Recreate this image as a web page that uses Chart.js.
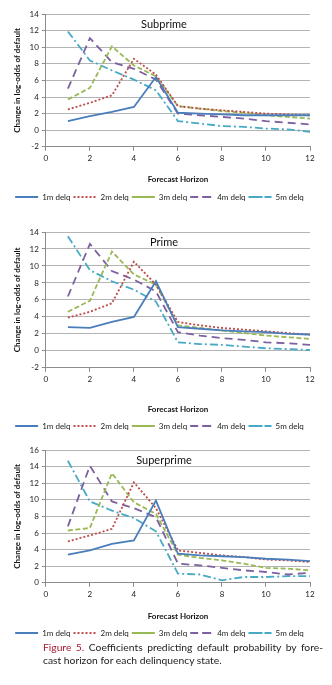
<!DOCTYPE html>
<html>
<head>
<meta charset="utf-8">
<script src="https://cdn.jsdelivr.net/npm/chart.js@4"></script>
<style>
  body { margin: 0; background: #fff; width: 332px; height: 685px; position: relative; overflow: hidden; }
  .box { position: absolute; left: 0; width: 332px; }
  .caption { position: absolute; left: 43px; width: 280px; top: 641px; font-family: Lato, sans-serif; font-size: 10.3px; line-height: 13px; color: #222; }
  .caption .l1 { text-align: justify; text-align-last: justify; }
  .caption b { color: #a5192d; font-weight: normal; }
</style>
</head>
<body>
<div class="box" style="top:0px;height:213px"><canvas id="c1"></canvas></div>
<div class="box" style="top:218px;height:224px"><canvas id="c2"></canvas></div>
<div class="box" style="top:436px;height:213px"><canvas id="c3"></canvas></div>
<div class="caption">
  <div class="l1"><b>Figure 5.</b> Coefficients predicting default probability by fore-</div>
  <div>cast horizon for each delinquency state.</div>
</div>
<script>
// Data
const horizons = [1, 2, 3, 4, 5, 6, 7, 8, 9, 10, 11, 12];
const delqLabels = ['1m delq', '2m delq', '3m delq', '4m delq', '5m delq'];

const subprime1m = [1.1, 1.7, 2.2, 2.8, 6.4, 2.1, 2.0, 1.9, 1.8, 1.8, 1.8, 1.8];
const subprime2m = [2.5, 3.3, 4.2, 8.6, 6.7, 2.9, 2.6, 2.4, 2.2, 2.0, 1.9, 1.8];
const subprime3m = [3.7, 5.1, 10.1, 7.8, 6.5, 2.9, 2.6, 2.3, 2.1, 1.8, 1.6, 1.4];
const subprime4m = [5.0, 11.1, 8.2, 7.4, 6.1, 2.0, 1.8, 1.6, 1.4, 1.1, 0.9, 0.7];
const subprime5m = [11.9, 8.4, 7.2, 6.1, 4.8, 1.1, 0.8, 0.5, 0.4, 0.2, 0.1, -0.2];

const prime1m = [2.8, 2.7, 3.4, 4.0, 8.2, 2.8, 2.6, 2.4, 2.3, 2.2, 2.0, 1.9];
const prime2m = [3.9, 4.6, 5.6, 10.5, 7.8, 3.4, 3.0, 2.7, 2.5, 2.3, 2.1, 1.9];
const prime3m = [4.6, 5.9, 11.7, 9.0, 7.8, 3.0, 2.7, 2.4, 2.1, 1.8, 1.6, 1.4];
const prime4m = [6.4, 12.6, 9.4, 8.4, 7.0, 2.2, 1.8, 1.5, 1.3, 1.0, 0.9, 0.7];
const prime5m = [13.5, 9.5, 8.2, 7.2, 5.8, 1.0, 0.8, 0.7, 0.5, 0.3, 0.2, 0.1];

const superprime1m = [3.4, 3.9, 4.7, 5.1, 9.9, 3.5, 3.3, 3.2, 3.1, 2.9, 2.8, 2.6];
const superprime2m = [5.0, 5.7, 6.5, 12.1, 9.0, 3.9, 3.6, 3.3, 3.1, 2.8, 2.7, 2.5];
const superprime3m = [6.3, 6.6, 13.2, 9.7, 8.3, 3.4, 3.0, 2.7, 2.3, 1.8, 1.7, 1.5];
const superprime4m = [6.8, 14.1, 9.8, 9.0, 7.9, 2.3, 2.1, 1.8, 1.5, 1.3, 1.0, 1.2];
const superprime5m = [14.7, 9.8, 8.7, 7.8, 6.2, 1.1, 1.0, 0.3, 0.7, 0.7, 0.8, 0.8];

// Styles
const lineColors = ['#4A7EBB', '#BE4B48', '#98B954', '#7D60A0', '#46AAC5'];
const lineDashes = [[], [2, 2], [5, 2.5], [8, 5], [8, 3, 2, 3]];

Chart.defaults.font.family = "Lato, sans-serif";
Chart.defaults.color = '#222';

// draws the panel name inside the plot area
const panelTitle = {
    id: 'panelTitle',
    afterDraw(chart, args, opts) {
        const ctx = chart.ctx;
        ctx.save();
        ctx.font = '11px Lato, sans-serif';
        ctx.fillStyle = '#111';
        ctx.textAlign = 'center';
        ctx.textBaseline = 'middle';
        ctx.fillText(opts.text, 164, chart.chartArea.top + opts.dy);
        ctx.restore();
    }
};

function makeChart(id, name, seriesList, yMin, yMax, titleGap, titleBottom) {
    const ctx = document.getElementById(id).getContext('2d');
    return new Chart(ctx, {
        type: 'line',
        data: {
            datasets: seriesList.map((values, i) => ({
                label: delqLabels[i],
                data: horizons.map((h, j) => ({ x: h, y: values[j] })),
                borderColor: lineColors[i],
                backgroundColor: lineColors[i],
                borderWidth: 1.8,
                borderDash: lineDashes[i],
                pointRadius: 0,
                tension: 0,
                fill: false
            }))
        },
        options: {
            responsive: true,
            maintainAspectRatio: false,
            animation: false,
            layout: { padding: { left: 9, right: 22, top: 14, bottom: 2 } },
            plugins: {
                legend: {
                    position: 'bottom',
                    labels: { boxWidth: 23, boxHeight: 0, padding: 3, font: { size: 8 }, color: '#222' }
                },
                tooltip: { enabled: false },
                panelTitle: { text: name, dy: 10 }
            },
            scales: {
                x: {
                    type: 'linear',
                    min: 0, max: 12,
                    ticks: { stepSize: 2, padding: 3, font: { size: 8 }, color: '#222' },
                    grid: { drawOnChartArea: false, drawTicks: true, tickLength: 4, color: '#8c8c8c' },
                    border: { color: '#8c8c8c' },
                    title: { display: true, text: 'Forecast Horizon', font: { size: 8, weight: 'bold' }, color: '#111', padding: { top: titleGap, bottom: titleBottom } }
                },
                y: {
                    min: yMin, max: yMax,
                    ticks: { stepSize: 2, padding: 3, font: { size: 8 }, color: '#222' },
                    grid: { color: '#b4b4b4', tickLength: 4, tickColor: '#8c8c8c' },
                    border: { color: '#8c8c8c' },
                    title: { display: true, text: 'Change in log-odds of default', font: { size: 8, weight: 'bold' }, color: '#111', padding: 4 }
                }
            }
        },
        plugins: [panelTitle]
    });
}

makeChart('c1', 'Subprime', [subprime1m, subprime2m, subprime3m, subprime4m, subprime5m], -2, 14, 8, 6);
makeChart('c2', 'Prime', [prime1m, prime2m, prime3m, prime4m, prime5m], -2, 14, 17, 5);
makeChart('c3', 'Superprime', [superprime1m, superprime2m, superprime3m, superprime4m, superprime5m], 0, 16, 9, 5);
</script>
</body>
</html>
